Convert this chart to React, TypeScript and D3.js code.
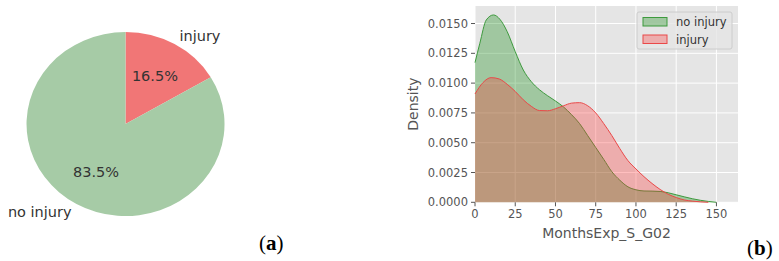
import React from "react";
import * as d3 from "d3";

const pieLabels = ["injury", "no injury"];
const pieValues = [16.5, 83.5];
const pieColors = ["#f17676", "#a6cba6"];

const kdeX = [0, 3, 7, 11.5, 15.5, 20, 25, 30, 35, 40, 45, 50, 55, 60, 65, 70, 75, 80, 85, 90, 95, 100, 105, 110, 115, 120, 125, 130, 135, 140, 145, 150];
const noInjury = [0.01172, 0.01334, 0.0153, 0.01572, 0.01535, 0.01432, 0.01264, 0.0111, 0.01012, 0.00945, 0.00895, 0.0085, 0.008, 0.00735, 0.0066, 0.0056, 0.0046, 0.0036, 0.00257, 0.00185, 0.0013, 0.00105, 0.00095, 0.00094, 0.00091, 0.0008, 0.00063, 0.00046, 0.0003, 0.00017, 0.00007, 0.0];
const injuryX = [0, 5, 10, 15, 20, 25, 30, 35, 40, 45, 50, 55, 60, 65, 70, 75, 80, 85, 90, 95, 100, 105, 110, 115, 120, 125, 130, 135, 140, 145];
const injury = [0.00909, 0.01005, 0.01046, 0.01035, 0.0099, 0.0093, 0.0086, 0.00805, 0.0077, 0.00768, 0.00785, 0.0081, 0.00832, 0.00836, 0.0081, 0.0075, 0.0066, 0.0056, 0.0045, 0.0035, 0.0028, 0.00215, 0.00158, 0.00108, 0.00068, 0.0004, 0.0002, 0.0001, 0.00004, 0.0];

const xTicks = [0, 25, 50, 75, 100, 125, 150];
const yTicks = [0, 0.0025, 0.005, 0.0075, 0.01, 0.0125, 0.015];
const legendLabels = ["no injury", "injury"];

const SANS = "'DejaVu Sans', sans-serif";

function Pie() {
  const cx = 125.5, cy = 124, rx = 99, ry = 92;
  const arcs = d3.pie<number>().sort(null).startAngle(0).endAngle(2 * Math.PI)(pieValues);
  const arc = d3.arc<d3.PieArcDatum<number>>().innerRadius(0).outerRadius(1);
  return (
    <g>
      <g transform={`translate(${cx},${cy}) scale(${rx},${ry})`}>
        {arcs.map((a, i) => (
          <path key={i} d={arc(a) || ""} fill={pieColors[i]} />
        ))}
      </g>
      {arcs.map((a, i) => {
        const mid = (a.startAngle + a.endAngle) / 2;
        const sx = Math.sin(mid), sy = -Math.cos(mid);
        const lx = cx + 1.1 * rx * sx, ly = cy + 1.1 * ry * sy;
        const px = cx + 0.6 * rx * sx, py = cy + 0.6 * ry * sy;
        return (
          <g key={i} fontFamily={SANS} fontSize={14.5} fill="#333">
            <text x={lx} y={ly} textAnchor={sx > 0 ? "start" : "end"} dominantBaseline="central">{pieLabels[i]}</text>
            <text x={px} y={py} textAnchor="middle" dominantBaseline="central">{pieValues[i].toFixed(1)}%</text>
          </g>
        );
      })}
    </g>
  );
}

function Density() {
  const x = d3.scaleLinear().domain([0, 163.4]).range([475, 738]);
  const y = d3.scaleLinear().domain([0, 0.01647]).range([202.3, 6]);
  const area = d3.area<[number, number]>().x(d => x(d[0])).y0(y(0)).y1(d => y(d[1])).curve(d3.curveMonotoneX);
  const line = d3.line<[number, number]>().x(d => x(d[0])).y(d => y(d[1])).curve(d3.curveMonotoneX);
  const g: [number, number][] = kdeX.map((v, i) => [v, noInjury[i]]);
  const r: [number, number][] = injuryX.map((v, i) => [v, injury[i]]);
  const [x0, x1] = x.range();
  const [yb, yt] = y.range();
  return (
    <g fontFamily={SANS}>
      <rect x={x0} y={yt} width={x1 - x0} height={yb - yt} fill="#e5e5e5" />
      {xTicks.map(t => (
        <line key={"gx" + t} x1={x(t)} x2={x(t)} y1={yt} y2={yb} stroke="#fff" strokeWidth={1} />
      ))}
      {yTicks.map(t => (
        <line key={"gy" + t} x1={x0} x2={x1} y1={y(t)} y2={y(t)} stroke="#fff" strokeWidth={1} />
      ))}
      <path d={area(g) || ""} fill="#008000" fillOpacity={0.3} />
      <path d={line(g) || ""} fill="none" stroke="#3d9a3d" strokeWidth={1} />
      <path d={area(r) || ""} fill="#ff2a2a" fillOpacity={0.3} />
      <path d={line(r) || ""} fill="none" stroke="#ea4848" strokeWidth={1} />
      {xTicks.map(t => (
        <g key={"tx" + t}>
          <line x1={x(t)} x2={x(t)} y1={yb} y2={yb + 4} stroke="#555" />
          <text x={x(t)} y={yb + 16} textAnchor="middle" fontSize={11.5} fill="#555">{t}</text>
        </g>
      ))}
      {yTicks.map(t => (
        <g key={"ty" + t}>
          <line x1={x0 - 4} x2={x0} y1={y(t)} y2={y(t)} stroke="#555" />
          <text x={x0 - 7} y={y(t)} textAnchor="end" dominantBaseline="central" fontSize={11.5} fill="#555">{t.toFixed(4)}</text>
        </g>
      ))}
      <text x={(x0 + x1) / 2} y={238} textAnchor="middle" fontSize={14} fill="#555">MonthsExp_S_G02</text>
      <text transform={`translate(418,${(yb + yt) / 2}) rotate(-90)`} textAnchor="middle" fontSize={14} fill="#555">Density</text>
      <g>
        <rect x={637} y={12} width={95} height={37} rx={2} fill="#e5e5e5" fillOpacity={0.8} stroke="#cccccc" strokeWidth={1} />
        {legendLabels.map((lab, i) => (
          <g key={lab}>
            <rect x={643} y={17.5 + i * 17.5} width={24} height={8.5} fill={i === 0 ? "#008000" : "#ff2a2a"} fillOpacity={0.3} stroke={i === 0 ? "#3d9a3d" : "#ea4848"} />
            <text x={676} y={22 + i * 17.5} dominantBaseline="central" fontSize={11.5} fill="#333">{lab}</text>
          </g>
        ))}
      </g>
    </g>
  );
}

export default function App() {
  return (
    <svg width={779} height={261} style={{ position: "absolute", left: 0, top: 0, background: "#fff" }}>
      <rect width={779} height={261} fill="#fff" />
      <Pie />
      <Density />
      <text x={259} y={250} fontFamily="'Liberation Serif', 'Times New Roman', serif" fontSize={21} fill="#000">(<tspan fontWeight="bold">a</tspan>)</text>
      <text x={747} y={255} fontFamily="'Liberation Serif', 'Times New Roman', serif" fontSize={21} fill="#000">(<tspan fontWeight="bold">b</tspan>)</text>
    </svg>
  );
}
